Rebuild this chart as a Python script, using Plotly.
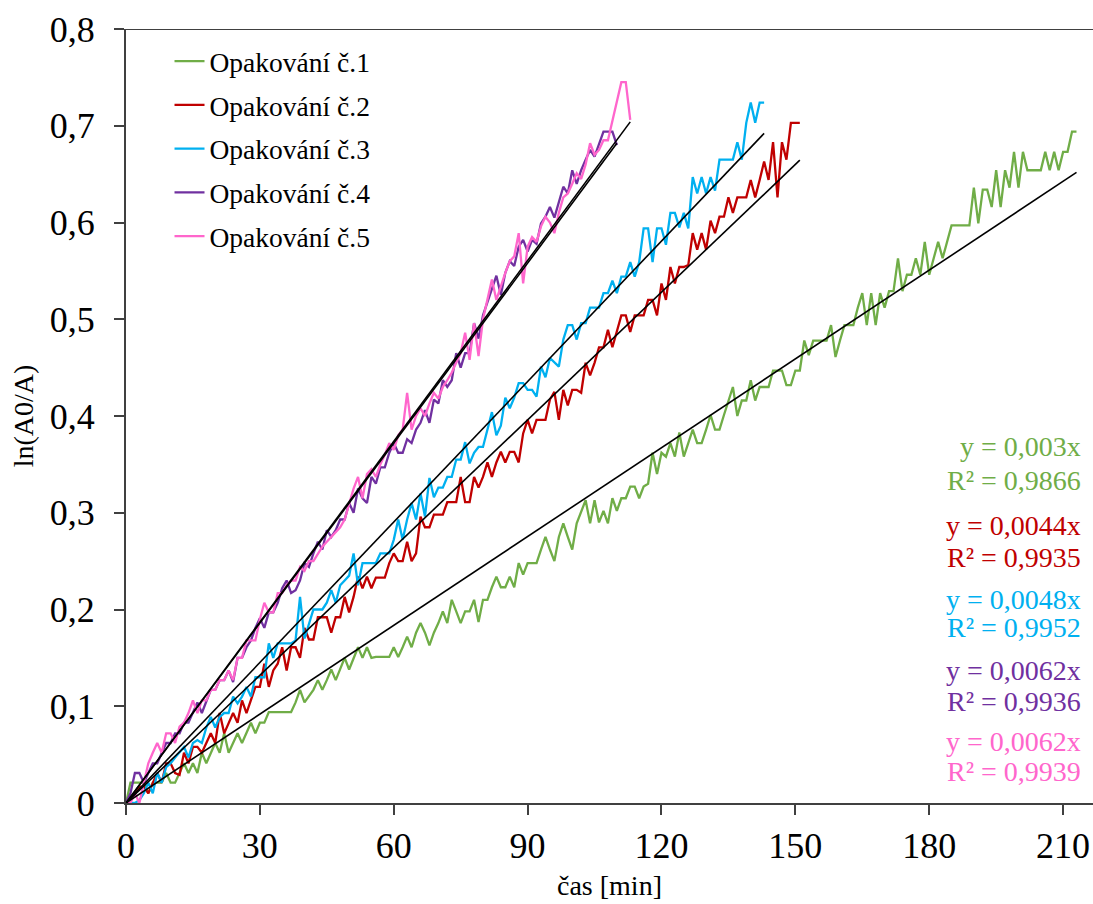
import plotly.graph_objects as go

# ---------------- data ----------------
series_names = ["Opakování č.1", "Opakování č.2", "Opakování č.3", "Opakování č.4", "Opakování č.5"]
series_colors = ["#70AD47", "#C00000", "#00B0F0", "#7030A0", "#FF66CC"]

# ln(A0/A) sampled every minute
rep1 = [0, 0.021, 0.021, 0.021, 0.021, 0.010, 0.021, 0.021, 0.021, 0.031,
        0.021, 0.021, 0.031, 0.041, 0.031, 0.041, 0.031, 0.052, 0.041, 0.052,
        0.062, 0.052, 0.072, 0.052, 0.062, 0.072, 0.062, 0.072, 0.083, 0.072,
        0.083, 0.083, 0.094, 0.094, 0.094, 0.094, 0.094, 0.094, 0.104, 0.117,
        0.104, 0.110, 0.117, 0.127, 0.117, 0.127, 0.138, 0.127, 0.138, 0.150,
        0.138, 0.150, 0.161, 0.150, 0.161, 0.150, 0.151, 0.151, 0.151, 0.151,
        0.161, 0.151, 0.161, 0.172, 0.161, 0.176, 0.186, 0.176, 0.163, 0.176,
        0.186, 0.198, 0.186, 0.210, 0.198, 0.186, 0.198, 0.198, 0.210, 0.187,
        0.210, 0.210, 0.223, 0.234, 0.223, 0.223, 0.234, 0.223, 0.248, 0.236,
        0.248, 0.248, 0.248, 0.262, 0.275, 0.262, 0.250, 0.275, 0.289, 0.275,
        0.262, 0.289, 0.302, 0.313, 0.289, 0.313, 0.290, 0.302, 0.289, 0.315,
        0.302, 0.315, 0.315, 0.327, 0.327, 0.315, 0.327, 0.330, 0.362, 0.340,
        0.362, 0.358, 0.372, 0.358, 0.383, 0.358, 0.372, 0.386, 0.372, 0.372,
        0.386, 0.401, 0.386, 0.386, 0.401, 0.416, 0.430, 0.400, 0.416, 0.416,
        0.437, 0.416, 0.430, 0.430, 0.430, 0.447, 0.447, 0.447, 0.432, 0.432,
        0.447, 0.447, 0.478, 0.463, 0.478, 0.478, 0.478, 0.478, 0.494, 0.461,
        0.478, 0.494, 0.494, 0.494, 0.512, 0.527, 0.494, 0.527, 0.494, 0.527,
        0.512, 0.529, 0.529, 0.563, 0.529, 0.546, 0.546, 0.563, 0.546, 0.580,
        0.546, 0.563, 0.580, 0.563, 0.580, 0.597, 0.597, 0.597, 0.597, 0.597,
        0.636, 0.599, 0.634, 0.634, 0.616, 0.654, 0.616, 0.654, 0.636, 0.673,
        0.636, 0.673, 0.654, 0.654, 0.654, 0.654, 0.673, 0.654, 0.673, 0.654,
        0.673, 0.673, 0.694, 0.694]

rep2 = [0, 0.005, 0.010, 0.017, 0.017, 0.010, 0.021, 0.031, 0.021, 0.041,
        0.041, 0.031, 0.029, 0.052, 0.041, 0.058, 0.058, 0.052, 0.062, 0.072,
        0.062, 0.093, 0.072, 0.083, 0.093, 0.083, 0.106, 0.093, 0.106, 0.120,
        0.120, 0.144, 0.120, 0.137, 0.144, 0.161, 0.137, 0.161, 0.161, 0.150,
        0.181, 0.169, 0.169, 0.192, 0.192, 0.192, 0.176, 0.192, 0.192, 0.213,
        0.197, 0.213, 0.234, 0.222, 0.234, 0.222, 0.233, 0.233, 0.233, 0.248,
        0.258, 0.250, 0.250, 0.270, 0.250, 0.258, 0.296, 0.285, 0.285, 0.298,
        0.298, 0.298, 0.311, 0.311, 0.311, 0.337, 0.311, 0.311, 0.337, 0.326,
        0.337, 0.352, 0.337, 0.352, 0.363, 0.352, 0.363, 0.363, 0.352, 0.382,
        0.396, 0.382, 0.396, 0.396, 0.396, 0.417, 0.425, 0.396, 0.427, 0.411,
        0.427, 0.427, 0.424, 0.455, 0.442, 0.455, 0.471, 0.471, 0.489, 0.471,
        0.489, 0.504, 0.504, 0.487, 0.504, 0.504, 0.504, 0.520, 0.520, 0.504,
        0.537, 0.520, 0.554, 0.537, 0.554, 0.554, 0.556, 0.589, 0.572, 0.589,
        0.572, 0.602, 0.589, 0.606, 0.606, 0.626, 0.610, 0.626, 0.626, 0.626,
        0.644, 0.626, 0.644, 0.663, 0.644, 0.683, 0.626, 0.683, 0.665, 0.703,
        0.703, 0.703]

rep3 = [0, 0, 0, 0.003, 0.010, 0.021, 0.010, 0.031, 0.021, 0.037,
        0.041, 0.047, 0.052, 0.058, 0.047, 0.062, 0.065, 0.062, 0.078, 0.089,
        0.078, 0.089, 0.093, 0.093, 0.110, 0.103, 0.110, 0.120, 0.110, 0.130,
        0.130, 0.130, 0.165, 0.150, 0.165, 0.165, 0.165, 0.165, 0.168, 0.213,
        0.170, 0.185, 0.200, 0.200, 0.200, 0.207, 0.220, 0.207, 0.225, 0.230,
        0.235, 0.258, 0.225, 0.248, 0.248, 0.248, 0.248, 0.258, 0.258, 0.258,
        0.272, 0.293, 0.272, 0.293, 0.310, 0.293, 0.320, 0.296, 0.336, 0.316,
        0.326, 0.326, 0.337, 0.337, 0.355, 0.355, 0.373, 0.351, 0.362, 0.368,
        0.368, 0.385, 0.404, 0.380, 0.390, 0.419, 0.408, 0.419, 0.434, 0.434,
        0.427, 0.427, 0.420, 0.451, 0.440, 0.460, 0.455, 0.451, 0.479, 0.494,
        0.494, 0.479, 0.496, 0.496, 0.512, 0.512, 0.512, 0.527, 0.527, 0.540,
        0.527, 0.544, 0.544, 0.559, 0.544, 0.559, 0.594, 0.594, 0.559, 0.594,
        0.594, 0.577, 0.610, 0.610, 0.595, 0.610, 0.594, 0.647, 0.630, 0.647,
        0.630, 0.647, 0.633, 0.665, 0.665, 0.665, 0.665, 0.683, 0.665, 0.703,
        0.724, 0.703, 0.724, 0.724]

rep4 = [0, 0.010, 0.031, 0.031, 0.021, 0.031, 0.041, 0.041, 0.052, 0.062,
        0.062, 0.072, 0.072, 0.083, 0.083, 0.093, 0.104, 0.093, 0.104, 0.117,
        0.117, 0.127, 0.127, 0.137, 0.125, 0.150, 0.150, 0.161, 0.168, 0.181,
        0.191, 0.181, 0.197, 0.197, 0.207, 0.222, 0.230, 0.217, 0.220, 0.230,
        0.248, 0.244, 0.258, 0.270, 0.262, 0.282, 0.275, 0.282, 0.293, 0.293,
        0.310, 0.300, 0.325, 0.315, 0.310, 0.337, 0.330, 0.347, 0.347, 0.362,
        0.372, 0.362, 0.362, 0.376, 0.372, 0.386, 0.393, 0.406, 0.393, 0.417,
        0.413, 0.437, 0.430, 0.437, 0.465, 0.450, 0.465, 0.465, 0.496, 0.480,
        0.504, 0.517, 0.530, 0.545, 0.525, 0.548, 0.560, 0.555, 0.575, 0.582,
        0.570, 0.582, 0.578, 0.599, 0.606, 0.616, 0.605, 0.620, 0.637, 0.630,
        0.654, 0.640, 0.654, 0.665, 0.675, 0.668, 0.680, 0.694, 0.694, 0.694,
        0.680]

rep5 = [0, 0, 0.010, 0, 0.021, 0.041, 0.052, 0.062, 0.052, 0.072,
        0.072, 0.062, 0.079, 0.083, 0.093, 0.106, 0.093, 0.106, 0.106, 0.117,
        0.117, 0.127, 0.127, 0.137, 0.127, 0.150, 0.150, 0.168, 0.168, 0.168,
        0.190, 0.207, 0.197, 0.197, 0.217, 0.217, 0.225, 0.230, 0.230, 0.244,
        0.240, 0.250, 0.250, 0.258, 0.265, 0.270, 0.275, 0.280, 0.285, 0.293,
        0.310, 0.325, 0.337, 0.315, 0.340, 0.345, 0.337, 0.350, 0.360, 0.372,
        0.365, 0.380, 0.386, 0.424, 0.386, 0.400, 0.408, 0.400, 0.413, 0.424,
        0.418, 0.430, 0.437, 0.445, 0.455, 0.465, 0.486, 0.458, 0.496, 0.462,
        0.500, 0.520, 0.541, 0.520, 0.535, 0.548, 0.560, 0.565, 0.589, 0.537,
        0.575, 0.585, 0.580, 0.596, 0.606, 0.600, 0.589, 0.610, 0.626, 0.630,
        0.640, 0.651, 0.645, 0.660, 0.682, 0.670, 0.675, 0.685, 0.685, 0.704,
        0.723, 0.745, 0.745, 0.706]

series_values = [rep1, rep2, rep3, rep4, rep5]

# linear trendlines through origin (slope)
trend_slopes = [0.00306, 0.0044, 0.00484, 0.0062, 0.00623]
equation_texts = ["y = 0,003x", "y = 0,0044x", "y = 0,0048x", "y = 0,0062x", "y = 0,0062x"]
r2_texts = ["R² = 0,9866", "R² = 0,9935", "R² = 0,9952", "R² = 0,9936", "R² = 0,9939"]
equation_y = [0.368, 0.287, 0.210, 0.137, 0.064]
r2_y = [0.333, 0.254, 0.181, 0.105, 0.033]

x_ticks = [0, 30, 60, 90, 120, 150, 180, 210]
y_ticks = [0, 0.1, 0.2, 0.3, 0.4, 0.5, 0.6, 0.7, 0.8]

FONT = "Liberation Serif, Times New Roman, serif"
AXIS_COLOR = "#404040"

fig = go.Figure()

for name, color, vals in zip(series_names, series_colors, series_values):
    t = list(range(len(vals)))
    fig.add_trace(go.Scatter(
        x=t, y=vals, mode="lines", name=name,
        line=dict(color=color, width=2.3),
        legendgroup=name,
    ))

for slope, vals in zip(trend_slopes, series_values):
    t_end = len(vals) - 1
    fig.add_trace(go.Scatter(
        x=[0, t_end], y=[0, slope * t_end], mode="lines",
        line=dict(color="black", width=1.6),
        showlegend=False, hoverinfo="skip",
    ))

annotations = []
for color, eq, r2, ye, yr in zip(series_colors, equation_texts, r2_texts, equation_y, r2_y):
    for txt, yy in ((eq, ye), (r2, yr)):
        annotations.append(dict(
            x=0.99, xref="paper", xanchor="right",
            y=yy, yref="y", yanchor="middle",
            text=txt, showarrow=False,
            font=dict(family=FONT, size=28, color=color),
        ))

fig.update_layout(
    width=1093, height=904,
    margin=dict(l=126, r=0, t=29, b=101),
    paper_bgcolor="white", plot_bgcolor="white",
    separators=", ",
    font=dict(family=FONT, color="black"),
    showlegend=True,
    legend=dict(
        x=0.045, y=0.99, xanchor="left", yanchor="top",
        font=dict(family=FONT, size=27.5, color="black"),
        bgcolor="rgba(0,0,0,0)", tracegroupgap=5,
    ),
    annotations=annotations,
    shapes=[dict(type="line", xref="paper", yref="y",
                 x0=-0.0105, x1=1, y0=0.8, y1=0.8,
                 line=dict(color=AXIS_COLOR, width=2))],
)

fig.update_xaxes(
    range=[0, 216.7], tickvals=x_ticks,
    showgrid=False, zeroline=False,
    showline=True, linecolor=AXIS_COLOR, linewidth=2,
    ticks="outside", ticklen=10, tickwidth=2, tickcolor=AXIS_COLOR,
    tickfont=dict(family=FONT, size=36, color="black"),
    title=dict(text="čas [min]", font=dict(family=FONT, size=28, color="black"), standoff=10),
)
fig.update_yaxes(
    range=[0, 0.8], tickvals=y_ticks,
    showgrid=False, zeroline=False,
    showline=True, linecolor=AXIS_COLOR, linewidth=2,
    ticks="outside", ticklen=10, tickwidth=2, tickcolor=AXIS_COLOR,
    tickfont=dict(family=FONT, size=36, color="black"),
    ticklabelstandoff=12,
    title=dict(text="ln(A0/A)", font=dict(family=FONT, size=28, color="black"), standoff=8),
)

fig.write_html(
    "out.html",
    config={"displayModeBar": False},
    post_script="document.body.style.margin='0';document.body.style.overflow='hidden';",
)
